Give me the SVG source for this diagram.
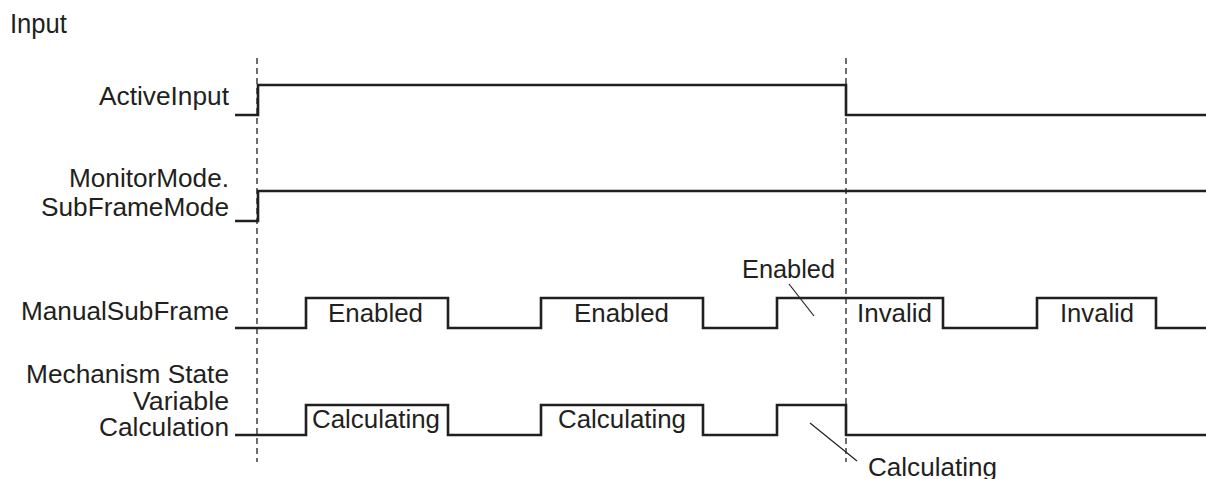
<svg xmlns="http://www.w3.org/2000/svg" width="1206" height="479" viewBox="0 0 1206 479">
<style>
text{font-family:"Liberation Sans",Arial,sans-serif;font-size:25px;fill:#231f20}
.lbl{text-anchor:end}
.mid{text-anchor:middle}
.sig{fill:none;stroke:#231f20;stroke-width:2.6;stroke-linejoin:miter}
.dash{fill:none;stroke:#231f20;stroke-width:1.3;stroke-dasharray:6 4}
.lead{fill:none;stroke:#231f20;stroke-width:1.2}
</style>
<rect width="1206" height="479" fill="#fff"/>
<g id="title"><text x="10" y="33" style="font-size:27px" textLength="57" lengthAdjust="spacingAndGlyphs">Input</text></g>
<g id="guides">
<line class="dash" x1="257" y1="58" x2="257" y2="462"/>
<line class="dash" x1="846" y1="58" x2="846" y2="462"/>
</g>
<g id="activeinput">
<text class="lbl" x="229" y="105" textLength="130" lengthAdjust="spacingAndGlyphs">ActiveInput</text>
<polyline class="sig" points="235,115 258,115 258,85 846,85 846,115 1206,115"/>
</g>
<g id="subframemode">
<text class="lbl" x="229" y="187" textLength="160" lengthAdjust="spacingAndGlyphs">MonitorMode.</text>
<text class="lbl" x="229" y="216" textLength="188" lengthAdjust="spacingAndGlyphs">SubFrameMode</text>
<polyline class="sig" points="235,221 258,221 258,191 1206,191"/>
</g>
<g id="manualsubframe">
<text class="lbl" x="229" y="320" textLength="208" lengthAdjust="spacingAndGlyphs">ManualSubFrame</text>
<polyline class="sig" points="235,328 306,328 306,298 448,298 448,328 541,328 541,298 703,298 703,328 777,328 777,298 943,298 943,328 1037,328 1037,298 1156,298 1156,328 1206,328"/>
<text x="328" y="322" textLength="95" lengthAdjust="spacingAndGlyphs">Enabled</text>
<text x="574" y="322" textLength="95" lengthAdjust="spacingAndGlyphs">Enabled</text>
<text x="857" y="322" textLength="75" lengthAdjust="spacingAndGlyphs">Invalid</text>
<text x="1060" y="322" textLength="74" lengthAdjust="spacingAndGlyphs">Invalid</text>
<text x="742" y="278" textLength="93" lengthAdjust="spacingAndGlyphs">Enabled</text>
</g>
<g id="mechanism">
<text class="lbl" x="229" y="383" textLength="203" lengthAdjust="spacingAndGlyphs">Mechanism State</text>
<text class="lbl" x="229" y="410" textLength="96" lengthAdjust="spacingAndGlyphs">Variable</text>
<text class="lbl" x="229" y="436" textLength="130" lengthAdjust="spacingAndGlyphs">Calculation</text>
<polyline class="sig" points="235,435 306,435 306,405 448,405 448,435 541,435 541,405 703,405 703,435 777,435 777,405 846,405 846,435 1206,435"/>
<text x="312" y="428" textLength="128" lengthAdjust="spacingAndGlyphs">Calculating</text>
<text x="558" y="428" textLength="128" lengthAdjust="spacingAndGlyphs">Calculating</text>
<text x="868" y="476" textLength="129" lengthAdjust="spacingAndGlyphs">Calculating</text>
</g>
<g id="connectors">
<line class="lead" x1="789" y1="284" x2="814" y2="316"/>
<line class="lead" x1="810" y1="423" x2="857" y2="461"/>
</g>
</svg>
